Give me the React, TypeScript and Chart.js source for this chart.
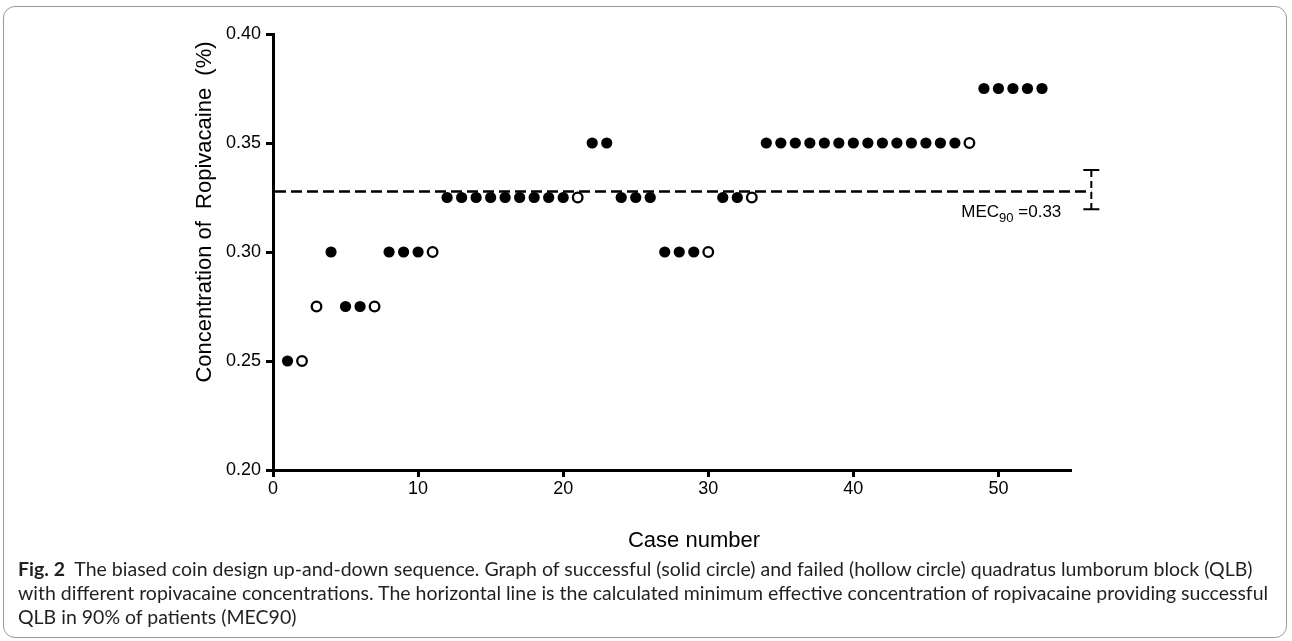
import React, { useEffect, useRef } from "react";
import { Chart, registerables } from "chart.js";

Chart.register(...registerables);

// ---- Data ----
const caseNumbers = [
  1, 2, 3, 4, 5, 6, 7, 8, 9, 10, 11, 12, 13, 14, 15, 16, 17, 18, 19, 20, 21, 22, 23, 24, 25, 26, 27,
  28, 29, 30, 31, 32, 33, 34, 35, 36, 37, 38, 39, 40, 41, 42, 43, 44, 45, 46, 47, 48, 49, 50, 51, 52, 53,
];
const concentrations = [
  0.25, 0.25, 0.275, 0.3, 0.275, 0.275, 0.275, 0.3, 0.3, 0.3, 0.3,
  0.325, 0.325, 0.325, 0.325, 0.325, 0.325, 0.325, 0.325, 0.325, 0.325,
  0.35, 0.35,
  0.325, 0.325, 0.325,
  0.3, 0.3, 0.3, 0.3,
  0.325, 0.325, 0.325,
  0.35, 0.35, 0.35, 0.35, 0.35, 0.35, 0.35, 0.35, 0.35, 0.35, 0.35, 0.35, 0.35, 0.35, 0.35,
  0.375, 0.375, 0.375, 0.375, 0.375,
];
// S = successful block (solid circle), F = failed block (hollow circle)
const outcomes = [
  "S", "F", "F", "S", "S", "S", "F", "S", "S", "S", "F",
  "S", "S", "S", "S", "S", "S", "S", "S", "S", "F",
  "S", "S",
  "S", "S", "S",
  "S", "S", "S", "F",
  "S", "S", "F",
  "S", "S", "S", "S", "S", "S", "S", "S", "S", "S", "S", "S", "S", "S", "F",
  "S", "S", "S", "S", "S",
];
const xTicks = [0, 10, 20, 30, 40, 50];
const yTicks = [0.2, 0.25, 0.3, 0.35, 0.4];
const mec90Line = 0.3277;
const mec90Label = "0.33";
const ciLow = 0.3196;
const ciHigh = 0.3376;
const ciX = 56.4;

const yTitle = "Concentration of  Ropivacaine  (%)";
const xTitle = "Case number";

const AXIS_FONT = "'Liberation Sans', Arial, sans-serif";

const overlayPlugin = {
  id: "overlay",
  beforeDatasetsDraw(chart: any) {
    const { ctx, chartArea, scales } = chart;
    const x = scales.x;
    const y = scales.y;
    const yLine = y.getPixelForValue(mec90Line);
    const xEnd = x.getPixelForValue(ciX);
    ctx.save();
    ctx.strokeStyle = "#000";
    ctx.lineWidth = 2.5;
    ctx.setLineDash([11, 5]);
    ctx.beginPath();
    ctx.moveTo(chartArea.left + 2, yLine);
    ctx.lineTo(xEnd, yLine);
    ctx.stroke();
    const yTop = y.getPixelForValue(ciHigh);
    const yBot = y.getPixelForValue(ciLow);
    ctx.lineWidth = 2;
    ctx.setLineDash([7, 4]);
    ctx.beginPath();
    ctx.moveTo(xEnd, yTop);
    ctx.lineTo(xEnd, yBot);
    ctx.stroke();
    ctx.setLineDash([]);
    ctx.beginPath();
    ctx.moveTo(xEnd - 8, yTop);
    ctx.lineTo(xEnd + 8, yTop);
    ctx.moveTo(xEnd - 8, yBot);
    ctx.lineTo(xEnd + 8, yBot);
    ctx.stroke();
    ctx.restore();
  },
  afterDraw(chart: any) {
    const { ctx, chartArea, scales } = chart;
    const x = scales.x;
    const y = scales.y;
    ctx.save();
    ctx.fillStyle = "#000";
    // y title
    ctx.font = `22px ${AXIS_FONT}`;
    ctx.textAlign = "center";
    ctx.textBaseline = "middle";
    ctx.translate(chartArea.left - 68, (chartArea.top + chartArea.bottom) / 2 - 40);
    ctx.rotate(-Math.PI / 2);
    ctx.fillText(yTitle, 0, 0);
    ctx.restore();

    ctx.save();
    ctx.fillStyle = "#000";
    ctx.font = `22px ${AXIS_FONT}`;
    ctx.textAlign = "center";
    ctx.textBaseline = "middle";
    ctx.fillText(xTitle, (chartArea.left + chartArea.right) / 2 + 22, chartArea.bottom + 71);

    // MEC90 label
    const yLine = y.getPixelForValue(mec90Line);
    const xEnd = x.getPixelForValue(ciX);
    ctx.textAlign = "left";
    ctx.textBaseline = "alphabetic";
    const base = yLine + 25;
    ctx.font = `17px ${AXIS_FONT}`;
    const w1 = ctx.measureText("MEC").width;
    ctx.font = `13px ${AXIS_FONT}`;
    const w2 = ctx.measureText("90").width;
    ctx.font = `17px ${AXIS_FONT}`;
    const rest = " =" + mec90Label;
    const w3 = ctx.measureText(rest).width;
    let sx = xEnd - 30 - (w1 + w2 + w3);
    ctx.fillText("MEC", sx, base);
    sx += w1;
    ctx.font = `13px ${AXIS_FONT}`;
    ctx.fillText("90", sx, base + 5);
    sx += w2;
    ctx.font = `17px ${AXIS_FONT}`;
    ctx.fillText(rest, sx, base);
    ctx.restore();
  },
};

export default function App() {
  const canvasRef = useRef<HTMLCanvasElement | null>(null);

  useEffect(() => {
    const canvas = canvasRef.current;
    if (!canvas) return;
    const solid: { x: number; y: number }[] = [];
    const hollow: { x: number; y: number }[] = [];
    caseNumbers.forEach((c, i) => {
      const pt = { x: c, y: concentrations[i] };
      if (outcomes[i] === "S") solid.push(pt);
      else hollow.push(pt);
    });

    const chart = new Chart(canvas, {
      type: "scatter",
      data: {
        datasets: [
          {
            label: "Successful",
            data: solid,
            pointRadius: 5.6,
            pointBackgroundColor: "#000",
            pointBorderColor: "#000",
            pointBorderWidth: 0,
            showLine: false,
          },
          {
            label: "Failed",
            data: hollow,
            pointRadius: 4.8,
            pointBackgroundColor: "#fff",
            pointBorderColor: "#000",
            pointBorderWidth: 2.3,
            showLine: false,
          },
        ],
      },
      options: {
        responsive: false,
        animation: false,
        layout: { padding: { left: 0, top: 34, right: 221, bottom: 0 } },
        plugins: {
          legend: { display: false },
          tooltip: { enabled: false },
          title: { display: false },
        },
        scales: {
          x: {
            type: "linear",
            min: 0,
            max: 55,
            grid: {
              drawOnChartArea: false,
              drawTicks: true,
              tickLength: 7,
              tickWidth: 3,
              tickColor: "#000",
            },
            border: { color: "#000", width: 3 },
            ticks: {
              color: "#000",
              font: { family: AXIS_FONT, size: 18 },
              padding: 1,
              maxRotation: 0,
              autoSkip: false,
              includeBounds: false,
            },
            afterBuildTicks: (scale: any) => {
              scale.ticks = xTicks.map((v) => ({ value: v }));
            },
            afterFit: (scale: any) => {
              scale.height = 90;
            },
          },
          y: {
            type: "linear",
            min: 0.2,
            max: 0.4,
            grid: {
              drawOnChartArea: false,
              drawTicks: true,
              tickLength: 7,
              tickWidth: 3,
              tickColor: "#000",
            },
            border: { color: "#000", width: 3 },
            ticks: {
              color: "#000",
              font: { family: AXIS_FONT, size: 18 },
              padding: 5,
              autoSkip: false,
              callback: (v: any) => Number(v).toFixed(2),
            },
            afterBuildTicks: (scale: any) => {
              scale.ticks = yTicks.map((v) => ({ value: v }));
            },
            afterFit: (scale: any) => {
              scale.width = 273;
            },
          },
        },
      },
      plugins: [overlayPlugin],
    });
    return () => chart.destroy();
  }, []);

  const captionStyle: React.CSSProperties = {
    position: "absolute",
    left: 18,
    top: 557,
    fontFamily: "Lato, 'Open Sans', sans-serif",
    fontSize: 19.5,
    lineHeight: "24px",
    color: "#231f20",
    whiteSpace: "nowrap",
  };

  return (
    <div
      style={{
        position: "absolute",
        left: 0,
        top: 0,
        width: 1292,
        height: 641,
        background: "#fff",
        overflow: "hidden",
      }}
    >
      <div
        style={{
          position: "absolute",
          left: 3,
          top: 6,
          width: 1284,
          height: 632,
          border: "1px solid #9a9a9a",
          borderRadius: 12,
          boxSizing: "border-box",
        }}
      />
      <canvas
        ref={canvasRef}
        width={1292}
        height={560}
        style={{ position: "absolute", left: 0, top: 0, width: 1292, height: 560 }}
      />
      <div style={captionStyle}>
        <div>
          <b>Fig. 2</b>&nbsp; The biased coin design up-and-down sequence. Graph of successful (solid circle) and failed
          (hollow circle) quadratus lumborum block (QLB)
        </div>
        <div>
          with different ropivacaine concentrations. The horizontal line is the calculated minimum effective
          concentration of ropivacaine providing successful
        </div>
        <div>QLB in 90% of patients (MEC90)</div>
      </div>
    </div>
  );
}
